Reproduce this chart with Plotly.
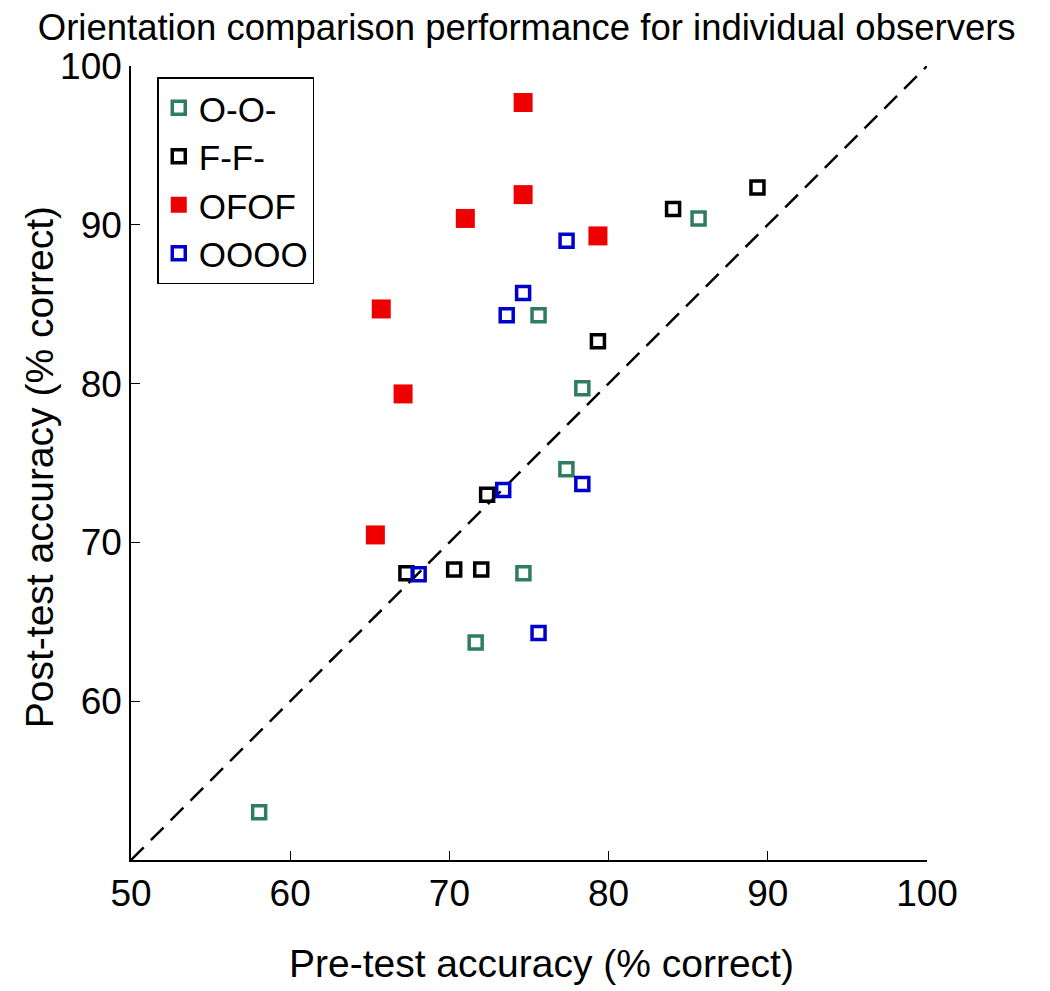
import plotly.graph_objects as go

# Data (pre-test %, post-test %)
oo_x = [58.05, 85.65, 75.6, 78.35, 77.35, 74.65, 71.65]
oo_y = [53.0, 90.4, 84.3, 79.7, 74.6, 68.05, 63.7]

ff_x = [89.35, 84.05, 79.33, 72.37, 67.3, 70.3, 72.0]
ff_y = [92.35, 91.0, 82.67, 73.0, 68.06, 68.3, 68.3]

ofof_x = [74.63, 74.63, 71.0, 79.33, 65.72, 67.09, 65.35]
ofof_y = [97.7, 91.9, 90.4, 89.3, 84.7, 79.35, 70.47]

oooo_x = [77.36, 74.63, 73.6, 73.38, 78.35, 68.07, 75.6]
oooo_y = [89.0, 85.7, 84.3, 73.3, 73.67, 68.0, 64.3]

diag = [50, 100]
x_ticks = [50, 60, 70, 80, 90, 100]
y_ticks = [60, 70, 80, 90, 100]

FONT = "Liberation Sans, Arial, sans-serif"

fig = go.Figure()
fig.add_trace(go.Scatter(x=diag, y=diag, mode="lines",
                         line=dict(color="black", width=2.5, dash="18px,10px"),
                         showlegend=False, hoverinfo="skip"))
fig.add_trace(go.Scatter(x=oo_x, y=oo_y, mode="markers", name="O-O-",
                         marker=dict(symbol="square-open", size=13, color="#2E7D5E",
                                     line=dict(width=3.5, color="#2E7D5E"))))
fig.add_trace(go.Scatter(x=ff_x, y=ff_y, mode="markers", name="F-F-",
                         marker=dict(symbol="square-open", size=13, color="black",
                                     line=dict(width=3.5, color="black"))))
fig.add_trace(go.Scatter(x=ofof_x, y=ofof_y, mode="markers", name="OFOF",
                         marker=dict(symbol="square", size=19, color="#EE0000",
                                     line=dict(width=0))))
fig.add_trace(go.Scatter(x=oooo_x, y=oooo_y, mode="markers", name="OOOO",
                         marker=dict(symbol="square-open", size=13, color="#0000CC",
                                     line=dict(width=3.5, color="#0000CC"))))

fig.update_layout(
    width=1050, height=991,
    margin=dict(l=123, r=131, t=58, b=139),
    paper_bgcolor="white", plot_bgcolor="white",
    font=dict(family=FONT, size=35, color="black"),
    title=dict(text="Orientation comparison performance for individual observers",
               xref="container", x=0.494, xanchor="center",
               yref="container", y=0.981, yanchor="middle",
               font=dict(family=FONT, size=36.5, color="black")),
    legend=dict(x=0.033, y=0.986, xanchor="left", yanchor="top",
                bgcolor="white", bordercolor="black", borderwidth=1.5,
                font=dict(family=FONT, size=35, color="black"),
                itemsizing="trace"),
    xaxis=dict(range=[50, 100], tickvals=x_ticks, ticks="inside", ticklen=9,
               tickwidth=1.2, tickcolor="black",
               showline=True, linecolor="black", linewidth=1.5, mirror=False,
               showgrid=False, zeroline=False,
               tickfont=dict(family=FONT, size=37)),
    yaxis=dict(range=[50, 100], tickvals=y_ticks, ticks="inside", ticklen=9,
               tickwidth=1.2, tickcolor="black",
               showline=True, linecolor="black", linewidth=1.5, mirror=False,
               showgrid=False, zeroline=False,
               tickfont=dict(family=FONT, size=37)),
    annotations=[
        dict(text="Pre-test accuracy (% correct)", xref="paper", yref="paper",
             x=0.516, y=-0.13, xanchor="center", yanchor="middle",
             showarrow=False, font=dict(family=FONT, size=39, color="black")),
        dict(text="Post-test accuracy (% correct)", xref="paper", yref="paper",
             x=-0.114, y=0.495, xanchor="center", yanchor="middle", textangle=-90,
             showarrow=False, font=dict(family=FONT, size=39, color="black")),
    ],
)

fig.write_html("out.html")
